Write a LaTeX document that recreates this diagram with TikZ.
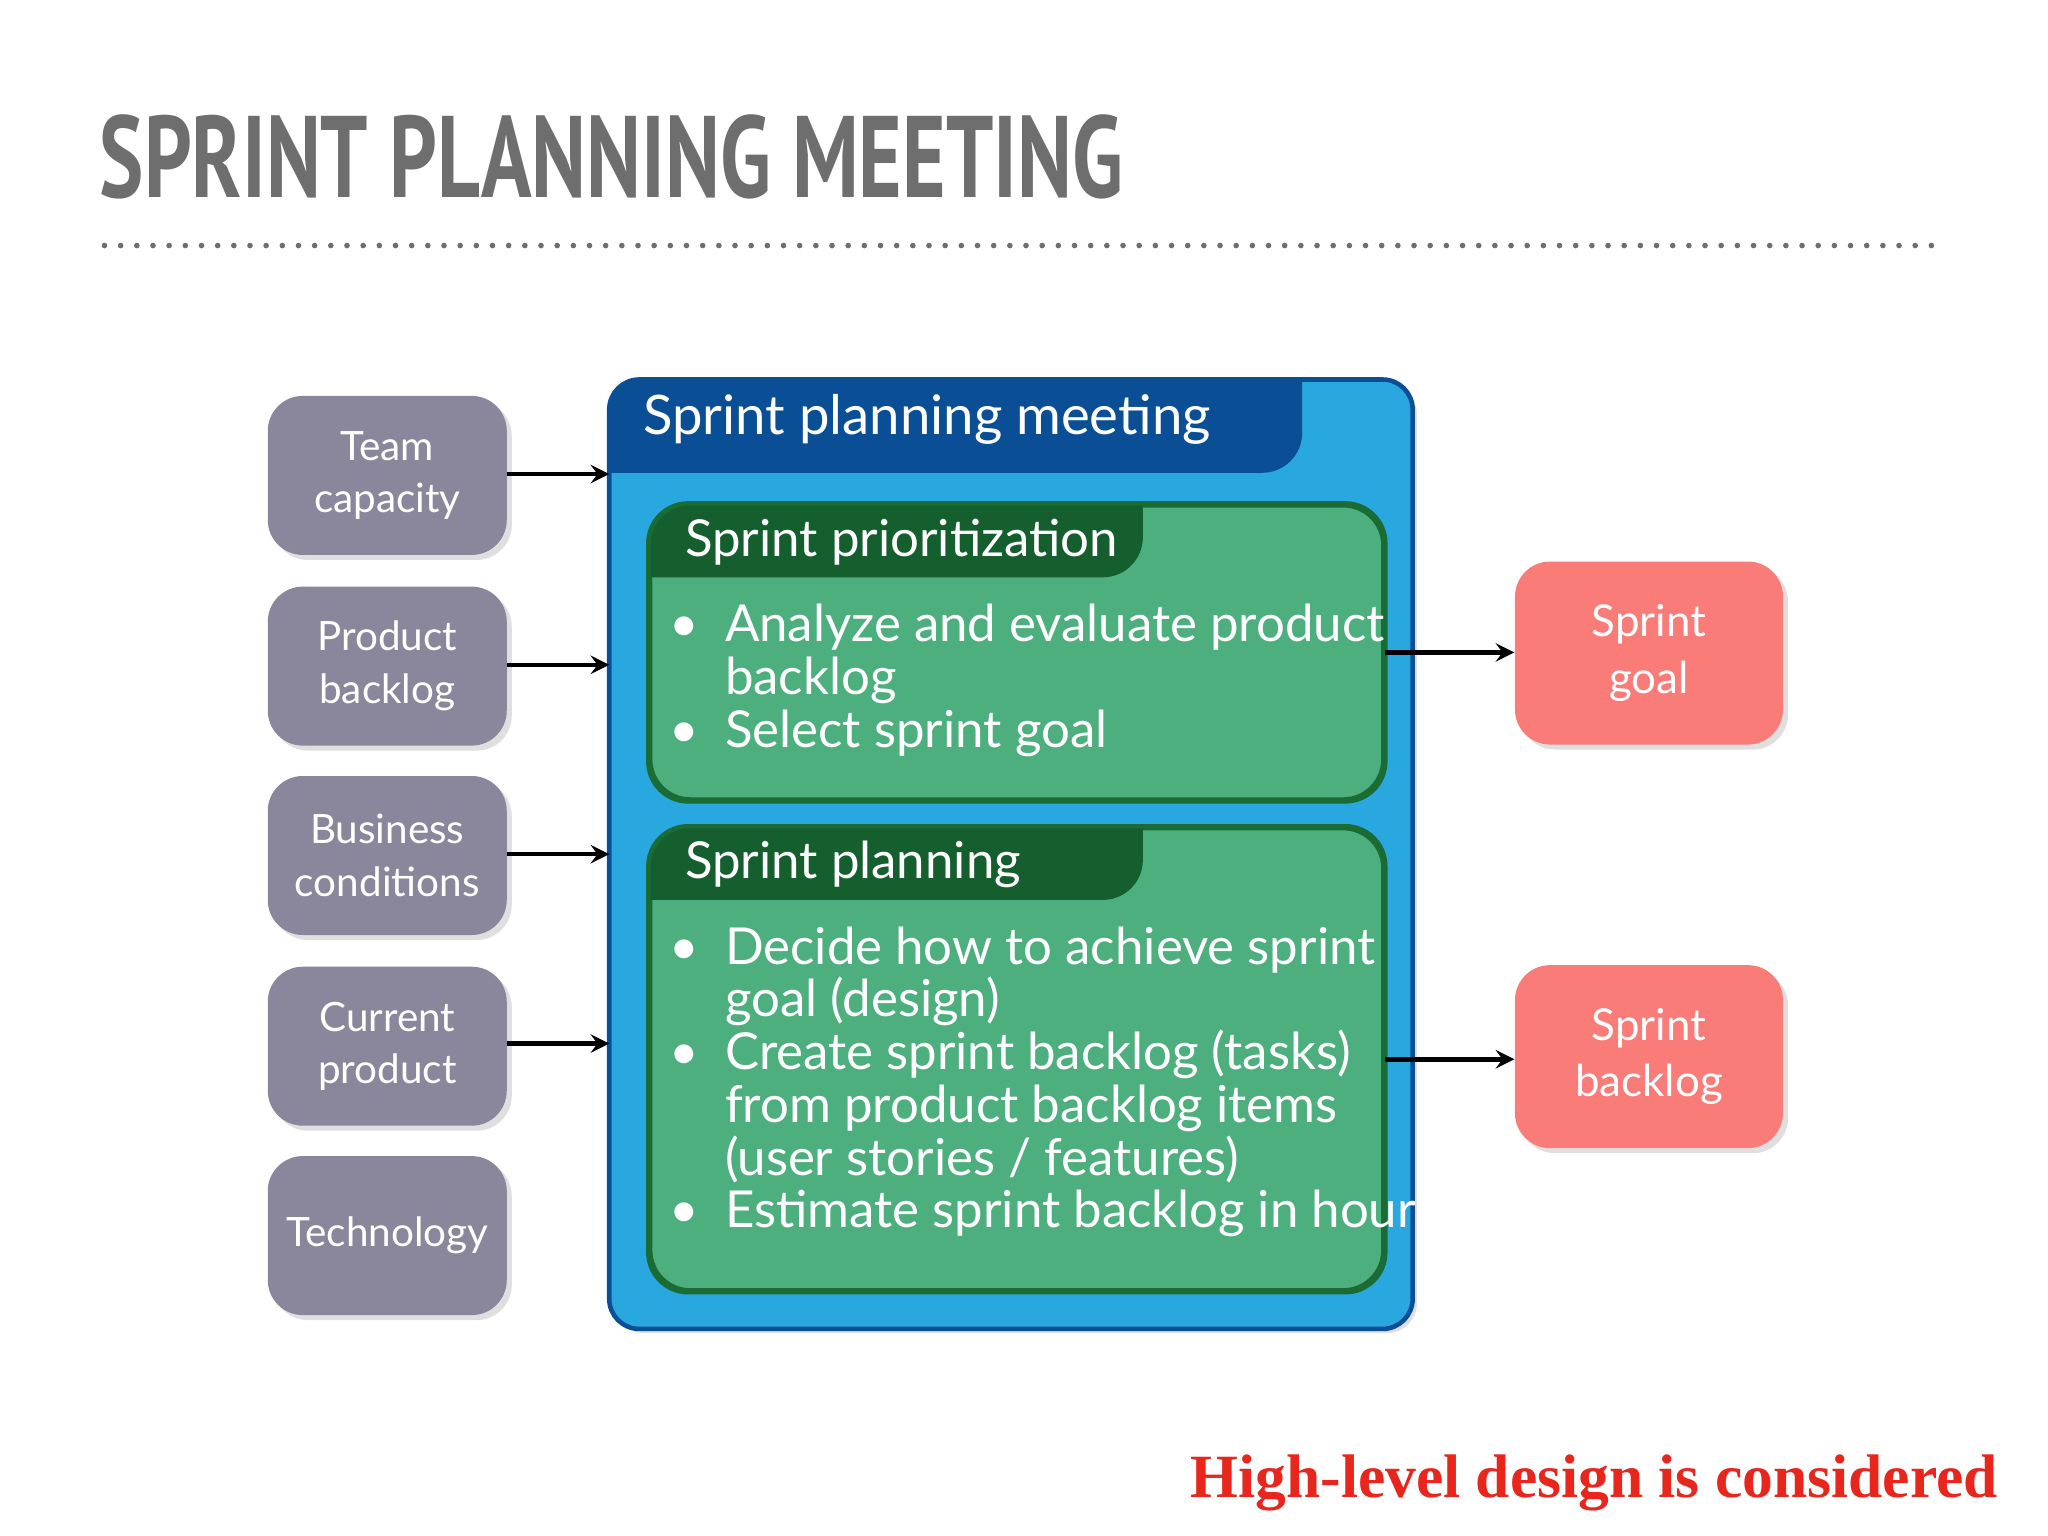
\documentclass[tikz,border=0pt]{standalone}
\usepackage{fontspec}
\setmainfont{Lato}
\newfontfamily\titlefont{PT Sans}
\newfontfamily\serifred{Liberation Serif}
\usetikzlibrary{shadows}
\definecolor{lgray}{HTML}{8A879C}
\definecolor{tgray}{HTML}{6E6E6E}
\definecolor{bfill}{HTML}{29A8E0}
\definecolor{bdark}{HTML}{0A4F96}
\definecolor{gfill}{HTML}{4CAF7D}
\definecolor{gdark}{HTML}{155E2E}
\definecolor{gline}{HTML}{1B6B35}
\definecolor{rfill}{HTML}{F97C78}
\definecolor{rtext}{HTML}{E8261C}
\tikzset{
 inbox/.style={fill=lgray,rounded corners=0.35cm,minimum width=2.39cm,minimum height=1.59cm,align=center,text=white,font=\fontsize{11.5}{15}\selectfont,drop shadow={opacity=0.25,shadow xshift=0.05cm,shadow yshift=-0.05cm}},
 outbox/.style={fill=rfill,rounded corners=0.35cm,minimum width=2.68cm,minimum height=1.83cm,align=center,text=white,font=\fontsize{12.5}{16}\selectfont,drop shadow={opacity=0.25,shadow xshift=0.05cm,shadow yshift=-0.05cm}},
 gbox/.style={fill=gfill,draw=gline,line width=1.2pt,rounded corners=0.4cm,minimum width=7.33cm},
 arr/.style={-stealth,line width=1.3pt,black},
 btext/.style={text=white,align=left,anchor=north west,inner sep=0pt,font=\fontsize{14.5}{16}\selectfont},
 htext/.style={text=white,anchor=west,inner sep=0pt,font=\fontsize{14.5}{16}\selectfont}
}
\begin{document}
\begin{tikzpicture}[x=0.01306cm,y=-0.01306cm]
\useasboundingbox[fill=white] (0,0) rectangle (1568,1176);
\node[anchor=west,text=tgray,inner sep=0pt] (title) at (76,120) {\scalebox{0.72}[1]{\titlefont\bfseries\fontsize{33}{36}\selectfont SPRINT PLANNING MEETING}};
\draw[tgray,line width=1.6pt,dash pattern=on 0pt off 4.6pt,line cap=round] (80,188) -- (1490,188);
% left inputs
\node[inbox] (i1) at (296.5,364) {Team\\capacity};
\node[inbox] (i2) at (296.5,510) {Product\\backlog};
\node[inbox] (i3) at (296.5,655) {Business\\conditions};
\node[inbox] (i4) at (296.5,801) {Current\\product};
\node[inbox] (i5) at (296.5,946) {Technology};
% blue box
\node[fill=bfill,rounded corners=0.3cm,minimum width=8.02cm,minimum height=9.48cm,drop shadow={opacity=0.25,shadow xshift=0.05cm,shadow yshift=-0.05cm}] (blue) at (774,654) {};
\begin{scope}
\clip[rounded corners=0.3cm] (467,291) rectangle (1081,1017);
\fill[bdark,rounded corners=0.4cm] (430,250) rectangle (997,362);
\end{scope}
\draw[bdark,line width=1.3pt,rounded corners=0.3cm] (blue.north west) rectangle (blue.south east);
\node[htext,font=\fontsize{15.5}{18}\selectfont] (bh) at (492,321) {Sprint planning meeting};
% green boxes
\node[gbox,minimum height=2.94cm] (g1) at (778.5,499.5) {};
\begin{scope}
\clip[rounded corners=0.4cm] (498,387) rectangle (1059,612);
\fill[gdark,rounded corners=0.4cm] (470,350) rectangle (875,442);
\end{scope}
\draw[gline,line width=1.2pt,rounded corners=0.4cm] (g1.north west) rectangle (g1.south east);
\node[htext] (g1h) at (524,415) {Sprint prioritization};
\node[btext] (g1t) at (512,462) {\textbullet\ \ Analyze and evaluate product\\[-1pt]\phantom{\textbullet\ \ }backlog\\[-1pt]\textbullet\ \ Select sprint goal};
\node[gbox,minimum height=4.62cm] (g2) at (778.5,811) {};
\begin{scope}
\clip[rounded corners=0.4cm] (498,634) rectangle (1059,988);
\fill[gdark,rounded corners=0.4cm] (470,597) rectangle (875,689);
\end{scope}
\draw[gline,line width=1.2pt,rounded corners=0.4cm] (g2.north west) rectangle (g2.south east);
\node[htext] (g2h) at (524,662) {Sprint planning};
\node[btext] (g2t) at (512,709) {\textbullet\ \ Decide how to achieve sprint\\[-1pt]\phantom{\textbullet\ \ }goal (design)\\[-1pt]\textbullet\ \ Create sprint backlog (tasks)\\[-1pt]\phantom{\textbullet\ \ }from product backlog items\\[-1pt]\phantom{\textbullet\ \ }(user stories / features)\\[-1pt]\textbullet\ \ Estimate sprint backlog in hours};
% outputs
\node[outbox] (o1) at (1262.5,500) {Sprint\\goal};
\node[outbox] (o2) at (1262.5,809) {Sprint\\backlog};
% arrows
\foreach \n/\yy in {i1/363,i2/509,i3/654,i4/799}{
 \draw[arr] (\n.east |- 0,\yy) -- (blue.west |- 0,\yy);
}
\draw[arr] (g1.east) -- (g1.east -| o1.west);
\draw[arr] (g2.east) -- (g2.east -| o2.west);
\node[anchor=east,text=rtext,inner sep=0pt,font=\serifred\bfseries\fontsize{17.5}{20}\selectfont] (note) at (1530,1135) {High-level design is considered};
\end{tikzpicture}
\end{document}
